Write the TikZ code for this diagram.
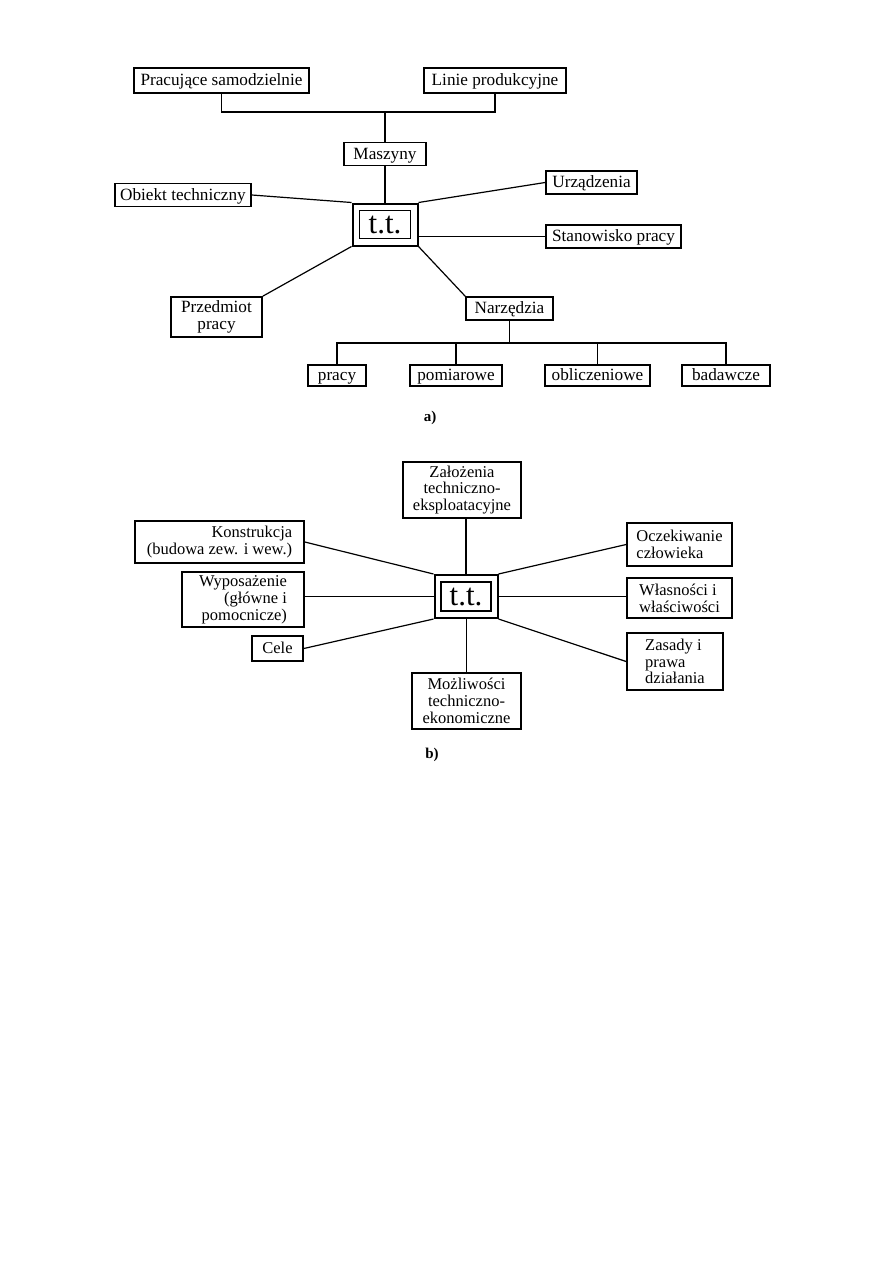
\documentclass[tikz,border=0pt]{standalone}
\usepackage{fontspec}
\setmainfont{Liberation Serif}
\begin{document}
\begin{tikzpicture}[x=1pt,y=-1pt,
  box/.style={draw,line width=1.7pt,inner sep=1pt,font=\fontsize{17.2}{17}\selectfont,align=center},
  one/.style={text height=12pt,text depth=2pt},
  boxb/.style={draw,line width=1.7pt,inner sep=1pt,font=\fontsize{16.5}{16.8}\selectfont},
  ttout/.style={draw,line width=2pt,inner sep=0pt},
  ttin/.style={draw,line width=1.2pt,inner sep=0pt,font=\fontsize{31}{31}\selectfont},
  conn/.style={line width=1.2pt},
  thinconn/.style={line width=0.7pt},
  lab/.style={font=\fontsize{15}{15}\selectfont\bfseries}]
\useasboundingbox (0,0) rectangle (893,1263);
% ---------- part a ----------
\node[box,one,minimum width=175,minimum height=25] (pr) at (221.5,80.5) {Pracujące samodzielnie};
\node[box,one,minimum width=142,minimum height=25] (li) at (495,80.5) {Linie produkcyjne};
\node[box,one,minimum width=82,minimum height=23] (ma) at (385,154) {Maszyny};
\node[ttout,minimum width=65,minimum height=42] (tt) at (385,224.5) {};
\node[ttin,minimum width=51,minimum height=28] (tti) at (385,224.5) {t.t.};
\node[box,one,minimum width=136,minimum height=23] (ob) at (183,195) {Obiekt techniczny};
\node[box,one,minimum width=91,minimum height=23] (ur) at (591.5,182.5) {Urządzenia};
\node[box,one,minimum width=135,minimum height=23] (st) at (613.5,236.5) {Stanowisko pracy};
\node[box,minimum width=91,minimum height=40] (pd) at (216.5,317) {Przedmiot\\pracy};
\node[box,one,minimum width=87,minimum height=23] (na) at (509.5,308.5) {Narzędzia};
\node[box,one,minimum width=58,minimum height=21] (p1) at (337,375.5) {pracy};
\node[box,one,minimum width=92,minimum height=21] (p2) at (456,375.5) {pomiarowe};
\node[box,one,minimum width=105,minimum height=21] (p3) at (597.5,375.5) {obliczeniowe};
\node[box,one,minimum width=88,minimum height=21] (p4) at (726,375.5) {badawcze};
\node[lab] (la) at (430,418) {a)};
\coordinate (j1) at (385,112);
\coordinate (j2) at (509.5,343);
\draw[conn] (pr.south) |- (j1) -| (li.south);
\draw[conn] (j1) -- (ma.north);
\draw[conn] (ma.south) -- (tt.north);
\draw[conn] (ob.east) -- (tt.north west);
\draw[conn] (ur.west) -- (tt.north east);
\draw[conn] (tt.east |- st.west) -- (st.west);
\draw[conn] (pd.north east) -- (tt.south west);
\draw[conn] (tt.south east) -- (na.north west);
\draw[conn] (na.south) -- (j2);
\draw[conn] (p1.north) |- (j2) -| (p4.north);
\draw[conn] (p2.north) -- (p2.north |- j2);
\draw[conn] (p3.north) -- (p3.north |- j2);
% ---------- part b ----------
\node[boxb,minimum width=118,minimum height=56,align=center] (za) at (462,490) {Założenia\\techniczno-\\eksploatacyjne};
\node[ttout,minimum width=63,minimum height=43] (tb) at (466,596.5) {};
\node[ttin,minimum width=50,minimum height=29] (tbi) at (466,596.5) {t.t.};
\node[boxb,minimum width=169,minimum height=42,align=right] (ko) at (219.5,542) {Konstrukcja\\(budowa zew. i wew.)};
\node[boxb,minimum width=122,minimum height=55,align=right] (wy) at (243,599.5) {Wyposażenie\\(główne i\\pomocnicze)};
\node[boxb,one,minimum width=51,minimum height=25] (ce) at (277.5,648.5) {Cele};
\node[boxb,minimum width=105,minimum height=43,align=left] (oc) at (679.5,544.5) {Oczekiwanie\\człowieka};
\node[boxb,minimum width=105,minimum height=40,align=left] (wl) at (679.5,598) {Własności i\\właściwości};
\node[boxb,minimum width=96,minimum height=57,align=left] (zd) at (675,661.5) {Zasady i\\prawa\\działania};
\node[boxb,minimum width=109,minimum height=56,align=center] (mo) at (466.5,701) {Możliwości\\techniczno-\\ekonomiczne};
\node[lab] (lb) at (432,755) {b)};
\draw[conn] (tb.north) -- (tb.north |- za.south);
\draw[conn] (ko.east) -- (tb.north west);
\draw[conn] (tb.west) -- (tb.west -| wy.east);
\draw[conn] (ce.east) -- (tb.south west);
\draw[conn] (oc.west) -- (tb.north east);
\draw[conn] (tb.east) -- (tb.east -| wl.west);
\draw[conn] (zd.west) -- (tb.south east);
\draw[thinconn] (tb.south) -- (tb.south |- mo.north);
\end{tikzpicture}
\end{document}
